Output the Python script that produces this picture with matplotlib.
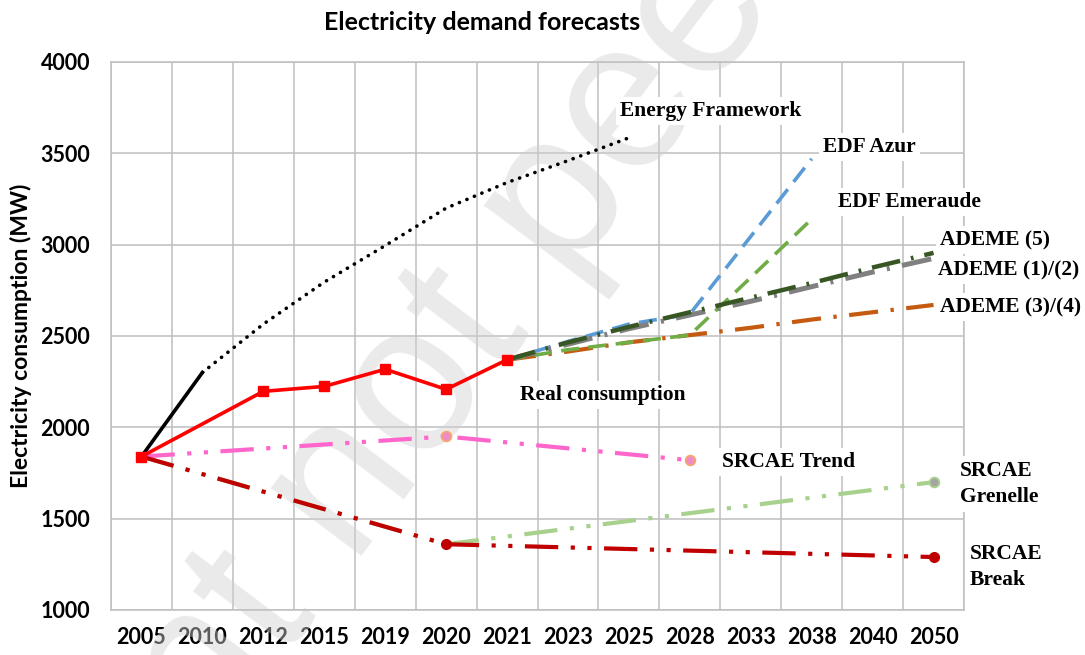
import numpy as np
import matplotlib.pyplot as plt

W, H = 1085, 655
nan = np.nan

years = ["2005", "2010", "2012", "2015", "2019", "2020", "2021",
         "2023", "2025", "2028", "2033", "2038", "2040", "2050"]

real = [1840, nan, 2197, 2224, 2318, 2208, 2370, nan, nan, nan, nan, nan, nan, nan]
early = [1840, 2300, nan, nan, nan, nan, nan, nan, nan, nan, nan, nan, nan, nan]
energy_fw = [nan, 2300, 2565, 2795, 2995, 3200, 3340, 3460, 3585, nan, nan, nan, nan, nan]
edf_azur = [nan, nan, nan, nan, nan, nan, 2370, 2470, 2565, 2620, 3045, 3470, nan, nan]
edf_emer = [nan, nan, nan, nan, nan, nan, 2370, 2425, 2465, 2505, 2820, 3140, nan, nan]
ademe_5 = [nan, nan, nan, nan, nan, nan, 2370, 2465, 2550, 2630, 2710, 2790, 2875, 2955]
ademe_12 = [nan, nan, nan, nan, nan, nan, 2370, 2455, 2540, 2615, 2690, 2770, 2850, 2925]
ademe_34 = [nan, nan, nan, nan, nan, nan, 2370, 2415, 2465, 2505, 2545, 2590, 2630, 2670]
srcae_trend = [1840, nan, nan, nan, nan, 1950, nan, nan, nan, 1820, nan, nan, nan, nan]
srcae_gren = [1840, nan, nan, nan, nan, 1360, nan, nan, nan, nan, nan, nan, nan, 1700]
srcae_break = [1840, nan, nan, nan, nan, 1360, nan, nan, nan, nan, nan, nan, nan, 1290]

SANS = ["Lato", "DejaVu Sans"]
SERIF = ["Liberation Serif", "DejaVu Serif"]
GRID = "#BFBFBF"

fig = plt.figure(figsize=(W / 100, H / 100), dpi=100)
ax = fig.add_axes([111 / W, 1 - 610 / H, (964 - 111) / W, (610 - 62) / H])

x = np.arange(len(years))


def draw(vals, **kw):
    v = np.array(vals, dtype=float)
    m = np.isfinite(v)
    return ax.plot(x[m], v[m], **kw)


dd = (0, (8, 3, 1, 3, 1, 3))
draw(srcae_gren, color="#A9D18E", lw=3.0, ls=dd, zorder=3)
draw(srcae_break, color="#C00000", lw=3.0, ls=dd, zorder=3.2)
draw(srcae_trend, color="#FF66CC", lw=3.0, ls=dd, zorder=3.1)
ax.plot(x[5], srcae_trend[5], "o", ms=7, mfc="#F08BC8", mec="#F4A870", mew=1.3, zorder=5)
ax.plot(x[9], srcae_trend[9], "o", ms=7, mfc="#F08BC8", mec="#F4A870", mew=1.3, zorder=5)
ax.plot(x[5], srcae_break[5], "o", ms=7, color="#C00000", zorder=5)
ax.plot(x[13], srcae_break[13], "o", ms=7, color="#C00000", zorder=5)
ax.plot(x[13], srcae_gren[13], "o", ms=7, mfc="#A5A5A5", mec="#A9D18E", mew=1.3, zorder=5)

draw(ademe_34, color="#C55A11", lw=3.0, ls=(0, (7, 3, 0.8, 3)), zorder=3)
draw(edf_emer, color="#70AD47", lw=2.6, ls=(0, (5, 2.6)), zorder=3.1)
draw(edf_azur, color="#5B9BD5", lw=2.6, ls=(0, (5, 2.6)), zorder=3.2)
draw(ademe_12, color="#808080", lw=3.6, ls=(0, (6, 2.5, 0.6, 2.5)), zorder=3.3)
draw(ademe_5, color="#375623", lw=3.2, ls=(0, (6.5, 2.5, 0.6, 2.5)), zorder=3.4)

draw(energy_fw, color="black", lw=2.6, ls=(0, (0.05, 2.2)),
     dash_capstyle="round", zorder=3)
draw(early, color="black", lw=2.6, zorder=3.5)
draw(real, color="#FF0000", lw=2.6, marker="s", ms=7.5, zorder=4)

ax.set_xlim(-0.5, len(years) - 0.5)
ax.set_ylim(1000, 4000)
ax.set_yticks(np.arange(1000, 4001, 500))
ax.set_xticks(x)
ax.set_xticklabels(years)
ax.set_xticks(np.arange(-0.5, len(years), 1), minor=True)
ax.grid(which="minor", axis="x", color=GRID, lw=1.1, zorder=0)
ax.grid(which="major", axis="y", color=GRID, lw=1.1, zorder=0)
ax.set_axisbelow(True)
for s in ax.spines.values():
    s.set_color(GRID)
    s.set_linewidth(1.1)
ax.tick_params(which="both", length=0)
ax.tick_params(axis="y", pad=15)
ax.tick_params(axis="x", pad=12)
for lab in ax.get_xticklabels() + ax.get_yticklabels():
    lab.set_fontfamily(SANS)
    lab.set_fontweight("bold")
    lab.set_fontsize(15.5)

ax.set_ylabel("Electricity consumption (MW)", family=SANS, fontweight="bold", fontsize=16.5)
ax.yaxis.set_label_coords(-0.0926, 0.5)

fig.text(482 / W, 1 - 22 / H, "Electricity demand forecasts", family=SANS,
         fontweight="bold", fontsize=18, ha="center", va="center")

labels = [
    ("Energy Framework", 620, 111),
    ("EDF Azur", 823, 147),
    ("EDF Emeraude", 838, 202),
    ("ADEME (5)", 940, 240),
    ("ADEME (1)/(2)", 938, 270),
    ("ADEME (3)/(4)", 940, 307),
    ("Real consumption", 520, 395),
    ("SRCAE Trend", 722, 462),
    ("SRCAE\nGrenelle", 960, 484),
    ("SRCAE\nBreak", 970, 567),
]
for txt, px, py in labels:
    fig.text(px / W, 1 - py / H, txt, family=SERIF, fontweight="bold", fontsize=15.5,
             ha="left", va="center", linespacing=1.45, zorder=6,
             bbox=dict(boxstyle="square,pad=0.2", fc="white", ec="none"))

# watermark of the preprint server: over grid and ticks, under the data lines
ax.text(0.530, 0.725, "Preprint not peer reviewed", family=["Liberation Sans"],
        fontsize=153, color="#D0D0D0", alpha=0.45, rotation=53,
        ha="center", va="center", zorder=2, clip_on=False,
        transform=fig.transFigure)

fig.savefig("out.png", dpi=100)
